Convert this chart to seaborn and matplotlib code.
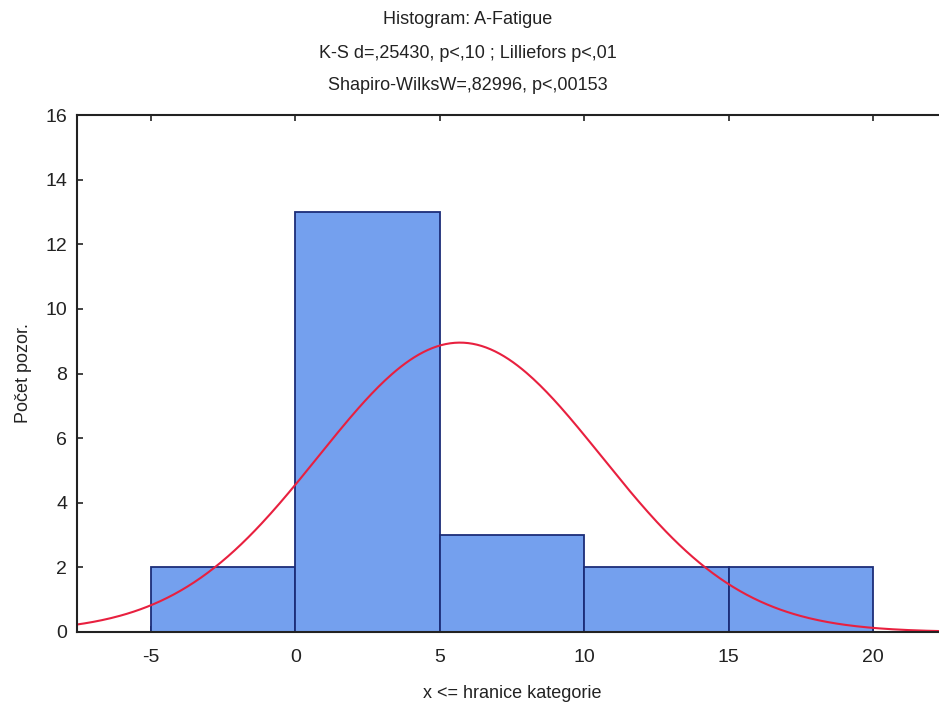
import numpy as np
import pandas as pd
import matplotlib
matplotlib.use("Agg")
import matplotlib.pyplot as plt
import seaborn as sns

# Data
bin_edges = [-5, 0, 5, 10, 15, 20]
bin_counts = [2, 13, 3, 2, 2]
fit_mean = 5.7
fit_sd = 4.9
n_obs = 22
x_ticks = [-5, 0, 5, 10, 15, 20]
y_ticks = [0, 2, 4, 6, 8, 10, 12, 14, 16]
title_lines = ["Histogram: A-Fatigue",
               "K-S d=,25430, p<,10 ; Lilliefors p<,01",
               "Shapiro-WilksW=,82996, p<,00153"]

sns.set_theme(style="white")
plt.rcParams['font.family'] = ['Liberation Sans', 'DejaVu Sans']
plt.rcParams['axes.unicode_minus'] = False

fig = plt.figure(figsize=(9.39, 7.09), dpi=100)
ax = fig.add_axes([77/939, 1 - 632/709, 1 - 77/939 + 0.01, (632 - 115)/709])

centers = [(a + b) / 2 for a, b in zip(bin_edges[:-1], bin_edges[1:])]
df = pd.DataFrame({"x": centers, "w": bin_counts})
sns.histplot(data=df, x="x", weights="w", bins=bin_edges, ax=ax,
             color="#74a0ee", alpha=1.0, edgecolor="#1c2d78", linewidth=1.3)

bw = bin_edges[1] - bin_edges[0]
xs = np.linspace(-8, 23, 400)
ys = n_obs * bw * np.exp(-0.5 * ((xs - fit_mean) / fit_sd) ** 2) / (fit_sd * np.sqrt(2 * np.pi))
sns.lineplot(x=xs, y=ys, ax=ax, color="#e8203f", linewidth=1.5)

ax.set_xlim(-7.55, 22.6)
ax.set_ylim(0, 16)
ax.set_xticks(x_ticks)
ax.set_yticks(y_ticks)
ax.tick_params(axis="both", direction="in", length=4, width=1.2, labelsize=14,
               top=True, left=True, bottom=True, colors="#222222", pad=7)
ax.tick_params(axis="x", pad=12)
for s in ["left", "top", "bottom"]:
    ax.spines[s].set_color("#222222")
    ax.spines[s].set_linewidth(1.5)
ax.spines["right"].set_visible(False)

ax.set_xlabel("x <= hranice kategorie", fontsize=13, labelpad=14, color="#222222")
ax.set_ylabel("Počet pozor.", fontsize=13, labelpad=10, color="#222222")

for i, t in enumerate(title_lines):
    fig.text(468/939, 1 - (20 + 33 * i)/709, t, ha="center", va="center",
             fontsize=13, color="#222222")

fig.savefig("out.png", dpi=100)
